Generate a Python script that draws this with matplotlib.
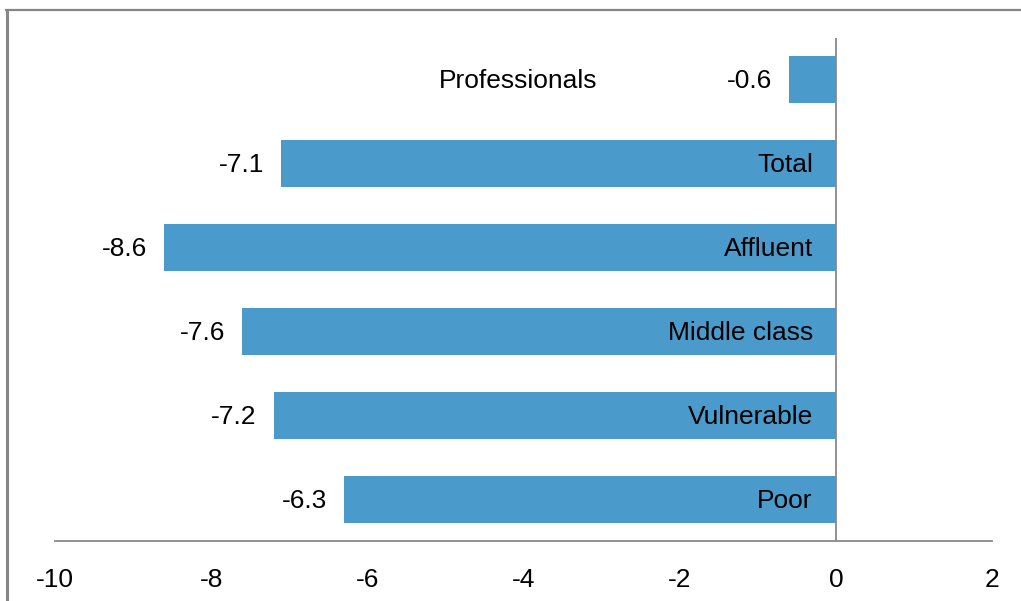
import matplotlib.pyplot as plt
from matplotlib.lines import Line2D
from matplotlib import transforms

# data, top to bottom as in the picture
categories = ["Professionals", "Total", "Affluent", "Middle class", "Vulnerable", "Poor"]
values = [-0.6, -7.1, -8.6, -7.6, -7.2, -6.3]
xticks = [-10, -8, -6, -4, -2, 0, 2]

bar_color = "#4A9BCB"
axis_color = "#898989"
frame_color = "#868686"

plt.rcParams["font.family"] = ["Liberation Sans", "DejaVu Sans"]
fs = 19

fig = plt.figure(figsize=(10.21, 6.01), dpi=100)
ax = fig.add_axes([55 / 1021, 1 - 541 / 601, (992 - 55) / 1021, (541 - 38) / 601])

n = len(categories)
ypos = [n - 1 - i for i in range(n)]
ax.barh(ypos, values, height=0.56, color=bar_color, zorder=2)

ax.set_xlim(-10, 2)
ax.set_ylim(-0.5, n - 0.5)

for s in ["top", "right", "left"]:
    ax.spines[s].set_visible(False)
ax.spines["bottom"].set_color(axis_color)
ax.spines["bottom"].set_linewidth(1.3)
ax.axvline(0, color=axis_color, lw=1.3, zorder=3)

ax.set_yticks([])
ax.set_xticks(xticks)
ax.set_xticklabels([str(t) for t in xticks], fontsize=fs)
ax.tick_params(axis="x", length=0, pad=19.5)

for y, v, cat in zip(ypos, values, categories):
    off_val = transforms.offset_copy(ax.transData, fig=fig, x=-17, y=-1.5, units="dots")
    ax.text(v, y, f"{v:.1f}", transform=off_val, ha="right", va="center", fontsize=fs)
    if cat == "Professionals":
        off_p = transforms.offset_copy(ax.transData, fig=fig, x=0, y=-1.5, units="dots")
        ax.text(-3.05, y, cat, transform=off_p, ha="right", va="center", fontsize=fs)
    else:
        off_cat = transforms.offset_copy(ax.transData, fig=fig, x=-23, y=-1.5, units="dots")
        ax.text(0, y, cat, transform=off_cat, ha="right", va="center", fontsize=fs)

# outer chart frame (left and top edges only are visible)
fig.add_artist(Line2D([7 / 1021, 7 / 1021], [0, 1 - 9.5 / 601], transform=fig.transFigure,
                      color=frame_color, lw=2.2))
fig.add_artist(Line2D([6 / 1021, 1], [1 - 9.5 / 601, 1 - 9.5 / 601], transform=fig.transFigure,
                      color=frame_color, lw=1.6))

fig.savefig("out.png", dpi=100)
